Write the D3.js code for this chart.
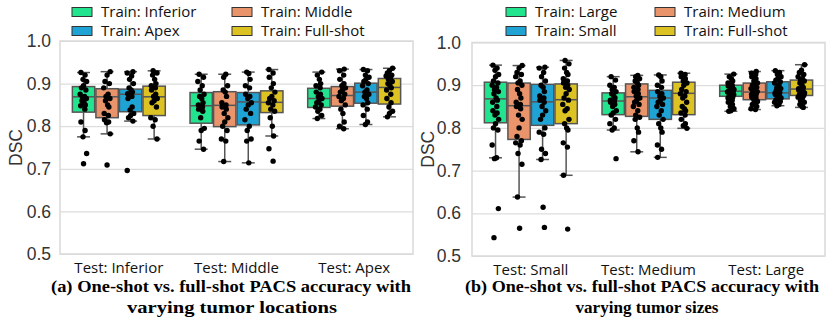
<!DOCTYPE html>
<html>
<head>
<meta charset="utf-8">
<script src="https://cdn.jsdelivr.net/npm/d3@7"></script>
<style>
  body { margin: 0; background: #fff; }
  svg { display: block; }
</style>
</head>
<body>
<script>
// ---- data ----
const colors = ["#22e38e", "#ea946c", "#1fa3d5", "#dcc222"];

const groupsA = ["Test: Inferior", "Test: Middle", "Test: Apex"];
const seriesA = ["Train: Inferior", "Train: Middle", "Train: Apex", "Train: Full-shot"];
const groupsB = ["Test: Small", "Test: Medium", "Test: Large"];
const seriesB = ["Train: Large", "Train: Medium", "Train: Small", "Train: Full-shot"];

const yTicks = [0.5, 0.6, 0.7, 0.8, 0.9, 1.0];

// box stats per group, per series: [whisker low, q1, median, q3, whisker high]
const boxA = [
  [[0.775, 0.833, 0.869, 0.893, 0.926], [0.782, 0.820, 0.869, 0.888, 0.928], [0.812, 0.834, 0.875, 0.887, 0.928], [0.770, 0.825, 0.869, 0.894, 0.930]],
  [[0.746, 0.807, 0.848, 0.879, 0.922], [0.717, 0.799, 0.849, 0.881, 0.922], [0.714, 0.803, 0.857, 0.879, 0.927], [0.777, 0.832, 0.856, 0.883, 0.933]],
  [[0.818, 0.844, 0.865, 0.889, 0.927], [0.794, 0.847, 0.872, 0.893, 0.934], [0.804, 0.854, 0.880, 0.901, 0.933], [0.822, 0.852, 0.891, 0.912, 0.936]]
];
const boxB = [
  [[0.730, 0.812, 0.868, 0.907, 0.947], [0.638, 0.773, 0.852, 0.905, 0.946], [0.726, 0.806, 0.861, 0.902, 0.942], [0.689, 0.810, 0.866, 0.903, 0.958]],
  [[0.795, 0.831, 0.863, 0.882, 0.920], [0.744, 0.827, 0.873, 0.903, 0.923], [0.731, 0.820, 0.870, 0.888, 0.924], [0.799, 0.831, 0.881, 0.907, 0.928]],
  [[0.839, 0.874, 0.886, 0.900, 0.926], [0.843, 0.866, 0.884, 0.905, 0.932], [0.852, 0.868, 0.882, 0.908, 0.934], [0.848, 0.876, 0.891, 0.912, 0.948]]
];

// individual cases (strip points)
const pointsA = [
  [
    [0.926, 0.92, 0.91, 0.905, 0.895, 0.89, 0.885, 0.875, 0.87, 0.868, 0.865, 0.86, 0.855, 0.85, 0.848, 0.84, 0.81, 0.79, 0.775, 0.736, 0.712],
    [0.928, 0.92, 0.905, 0.9, 0.89, 0.875, 0.87, 0.865, 0.86, 0.85, 0.845, 0.83, 0.825, 0.815, 0.81, 0.808, 0.782, 0.709],
    [0.928, 0.925, 0.918, 0.91, 0.9, 0.89, 0.885, 0.88, 0.876, 0.87, 0.865, 0.845, 0.838, 0.83, 0.825, 0.82, 0.812, 0.696],
    [0.93, 0.925, 0.92, 0.91, 0.9, 0.895, 0.89, 0.885, 0.875, 0.87, 0.865, 0.86, 0.855, 0.845, 0.82, 0.815, 0.80, 0.77]
  ],
  [
    [0.922, 0.915, 0.905, 0.895, 0.885, 0.875, 0.87, 0.865, 0.855, 0.85, 0.845, 0.84, 0.835, 0.82, 0.795, 0.79, 0.765, 0.746],
    [0.922, 0.915, 0.895, 0.885, 0.88, 0.87, 0.855, 0.85, 0.845, 0.84, 0.83, 0.82, 0.81, 0.8, 0.79, 0.77, 0.765, 0.717],
    [0.927, 0.924, 0.91, 0.895, 0.89, 0.875, 0.87, 0.865, 0.855, 0.85, 0.84, 0.83, 0.815, 0.8, 0.79, 0.77, 0.765, 0.714],
    [0.933, 0.925, 0.915, 0.9, 0.89, 0.88, 0.87, 0.865, 0.86, 0.855, 0.85, 0.84, 0.835, 0.82, 0.8, 0.777, 0.747, 0.718]
  ],
  [
    [0.927, 0.92, 0.91, 0.9, 0.895, 0.89, 0.88, 0.875, 0.87, 0.865, 0.86, 0.855, 0.85, 0.845, 0.84, 0.835, 0.825, 0.818],
    [0.934, 0.93, 0.92, 0.91, 0.9, 0.895, 0.89, 0.885, 0.88, 0.875, 0.87, 0.865, 0.86, 0.85, 0.84, 0.83, 0.81, 0.8, 0.794],
    [0.933, 0.93, 0.92, 0.915, 0.91, 0.905, 0.9, 0.895, 0.885, 0.88, 0.875, 0.87, 0.865, 0.855, 0.85, 0.84, 0.825, 0.81, 0.804],
    [0.936, 0.93, 0.925, 0.92, 0.918, 0.915, 0.91, 0.905, 0.9, 0.895, 0.89, 0.885, 0.875, 0.865, 0.855, 0.845, 0.835, 0.83, 0.822]
  ]
];
const pointsB = [
  [
    [0.947, 0.94, 0.935, 0.925, 0.92, 0.91, 0.905, 0.9, 0.895, 0.89, 0.885, 0.88, 0.87, 0.865, 0.86, 0.85, 0.84, 0.835, 0.83, 0.82, 0.81, 0.8, 0.795, 0.76, 0.73, 0.728, 0.611, 0.543],
    [0.946, 0.94, 0.93, 0.925, 0.92, 0.91, 0.905, 0.9, 0.89, 0.88, 0.87, 0.86, 0.855, 0.85, 0.845, 0.83, 0.82, 0.8, 0.78, 0.77, 0.765, 0.76, 0.74, 0.715, 0.638, 0.565],
    [0.942, 0.94, 0.93, 0.92, 0.91, 0.9, 0.895, 0.885, 0.875, 0.87, 0.865, 0.86, 0.85, 0.84, 0.83, 0.82, 0.8, 0.79, 0.785, 0.75, 0.74, 0.726, 0.614, 0.567],
    [0.958, 0.95, 0.94, 0.93, 0.925, 0.915, 0.91, 0.905, 0.9, 0.895, 0.89, 0.88, 0.87, 0.865, 0.855, 0.845, 0.84, 0.82, 0.81, 0.8, 0.795, 0.765, 0.755, 0.689, 0.563]
  ],
  [
    [0.92, 0.912, 0.9, 0.895, 0.89, 0.885, 0.88, 0.875, 0.87, 0.865, 0.862, 0.86, 0.855, 0.85, 0.84, 0.835, 0.83, 0.82, 0.81, 0.8, 0.795, 0.728],
    [0.923, 0.92, 0.915, 0.91, 0.905, 0.9, 0.895, 0.89, 0.885, 0.88, 0.875, 0.87, 0.865, 0.86, 0.855, 0.85, 0.84, 0.83, 0.825, 0.82, 0.8, 0.79, 0.77, 0.744],
    [0.924, 0.92, 0.91, 0.9, 0.895, 0.885, 0.88, 0.875, 0.87, 0.865, 0.86, 0.855, 0.85, 0.84, 0.83, 0.82, 0.81, 0.8, 0.79, 0.76, 0.75, 0.731],
    [0.928, 0.925, 0.92, 0.915, 0.91, 0.905, 0.9, 0.89, 0.885, 0.88, 0.875, 0.87, 0.86, 0.85, 0.845, 0.84, 0.835, 0.83, 0.82, 0.81, 0.805, 0.799]
  ],
  [
    [0.926, 0.92, 0.915, 0.91, 0.905, 0.9, 0.898, 0.895, 0.892, 0.89, 0.888, 0.886, 0.885, 0.884, 0.882, 0.88, 0.878, 0.876, 0.875, 0.872, 0.87, 0.865, 0.86, 0.855, 0.85, 0.845, 0.84, 0.839],
    [0.932, 0.928, 0.925, 0.92, 0.915, 0.91, 0.905, 0.902, 0.9, 0.895, 0.892, 0.89, 0.888, 0.885, 0.884, 0.882, 0.88, 0.878, 0.875, 0.872, 0.87, 0.866, 0.862, 0.86, 0.855, 0.85, 0.845, 0.843],
    [0.934, 0.93, 0.925, 0.92, 0.915, 0.912, 0.908, 0.905, 0.9, 0.895, 0.892, 0.888, 0.885, 0.883, 0.882, 0.88, 0.878, 0.875, 0.872, 0.87, 0.868, 0.865, 0.862, 0.86, 0.855, 0.852],
    [0.948, 0.935, 0.93, 0.925, 0.92, 0.915, 0.912, 0.91, 0.905, 0.9, 0.895, 0.892, 0.89, 0.888, 0.886, 0.884, 0.882, 0.88, 0.878, 0.876, 0.872, 0.87, 0.865, 0.86, 0.855, 0.85, 0.848]
  ]
];

const captionA = ["(a) One-shot vs. full-shot PACS accuracy with", "varying tumor locations"];
const captionB = ["(b) One-shot vs. full-shot PACS accuracy with", "varying tumor sizes"];

// fixed spread pattern for the strip points
const jitter = [-0.5, 0.3, -0.1, 0.6, 0.0, -0.4, 0.45, -0.65, 0.2, -0.2, 0.55, -0.3, 0.1, 0.35, -0.55, 0.25];

// ---- drawing ----
const svg = d3.select("body").append("svg").attr("width", 830).attr("height", 325);

function panel(opt) {
  const { left, right, top, bottom, groups, series, box, points, caption, capX, capW, legendX, tickX } = opt;

  const y = d3.scaleLinear().domain([0.5, 1.0]).range([bottom, top]);
  const x0 = d3.scaleBand().domain(groups).range([left, right]).paddingInner(0.2).paddingOuter(0.1);
  const x1 = d3.scaleBand().domain(series).range([0, x0.bandwidth()]);

  const g = svg.append("g");

  // grid
  g.append("g")
    .attr("transform", "translate(" + left + ",0)")
    .call(d3.axisLeft(y).tickValues(yTicks).tickSize(-(right - left)).tickFormat(""))
    .call(s => s.select(".domain").remove())
    .call(s => s.selectAll("line").attr("stroke", "#dddddd").attr("stroke-width", 1.2));

  // frame
  g.append("rect")
    .attr("x", left).attr("y", top)
    .attr("width", right - left).attr("height", bottom - top)
    .attr("fill", "none").attr("stroke", "#d9d9d9").attr("stroke-width", 1.5);

  // y labels
  g.append("g")
    .attr("transform", "translate(" + tickX + ",0)")
    .call(d3.axisLeft(y).tickValues(yTicks).tickSize(0).tickFormat(d3.format(".1f")))
    .call(s => s.select(".domain").remove())
    .call(s => s.selectAll("text")
      .attr("font-family", "Liberation Sans, Arial, sans-serif")
      .attr("font-size", 17.5).attr("fill", "#333"));

  g.append("text")
    .attr("transform", "translate(" + (left - 38) + "," + ((top + bottom) / 2) + ") rotate(-90)")
    .attr("text-anchor", "middle")
    .attr("font-family", "Liberation Sans, Arial, sans-serif")
    .attr("font-size", 17.5).attr("fill", "#333")
    .text("DSC");

  // x labels
  g.append("g")
    .attr("transform", "translate(0," + bottom + ")")
    .call(d3.axisBottom(x0).tickSize(0).tickPadding(8))
    .call(s => s.select(".domain").remove())
    .call(s => s.selectAll("text")
      .attr("font-family", "Open Sans, sans-serif")
      .attr("font-size", 15).attr("fill", "#111"));

  const bw = x1.bandwidth();
  const cap = bw * 0.55;

  groups.forEach((grp, gi) => {
    series.forEach((ser, si) => {
      const [lo, q1, med, q3, hi] = box[gi][si];
      const cx = x0(grp) + x1(ser) + bw / 2;
      const bg = g.append("g");
      bg.append("line").attr("x1", cx).attr("x2", cx).attr("y1", y(hi)).attr("y2", y(q3))
        .attr("stroke", "#555").attr("stroke-width", 1.5);
      bg.append("line").attr("x1", cx).attr("x2", cx).attr("y1", y(q1)).attr("y2", y(lo))
        .attr("stroke", "#555").attr("stroke-width", 1.5);
      [lo, hi].forEach(v => bg.append("line")
        .attr("x1", cx - cap / 2).attr("x2", cx + cap / 2).attr("y1", y(v)).attr("y2", y(v))
        .attr("stroke", "#555").attr("stroke-width", 1.5));
      bg.append("rect")
        .attr("x", x0(grp) + x1(ser) + 0.6).attr("y", y(q3))
        .attr("width", bw - 1.2).attr("height", y(q1) - y(q3))
        .attr("fill", colors[si]).attr("stroke", "#555").attr("stroke-width", 1.5);
      bg.append("line").attr("x1", x0(grp) + x1(ser) + 0.6).attr("x2", x0(grp) + x1(ser) + bw - 0.6)
        .attr("y1", y(med)).attr("y2", y(med))
        .attr("stroke", "#555").attr("stroke-width", 1.5);

      bg.selectAll("circle")
        .data(points[gi][si])
        .join("circle")
        .attr("cx", (d, i) => cx + jitter[(i + si * 3 + gi * 5) % jitter.length] * bw * 0.22)
        .attr("cy", d => y(d))
        .attr("r", 2.7)
        .attr("fill", "#000");
    });
  });

  // legend (2 x 2)
  const leg = svg.append("g");
  series.forEach((ser, si) => {
    const col = si === 0 || si === 2 ? 0 : 1;
    const row = si < 2 ? 0 : 1;
    const lx = legendX[col];
    const ly = 12 + row * 19;
    leg.append("rect").attr("x", lx).attr("y", ly - 4.5).attr("width", 20).attr("height", 9)
      .attr("fill", colors[si]).attr("stroke", "#333").attr("stroke-width", 1);
    leg.append("text").attr("x", lx + 29).attr("y", ly).attr("dy", "0.35em")
      .attr("font-family", "Open Sans, sans-serif").attr("font-size", 15).attr("fill", "#111")
      .text(ser);
  });

  // caption
  caption.forEach((line, i) => {
    svg.append("text")
      .attr("x", capX[i]).attr("y", 292 + i * 21)
      .attr("text-anchor", "middle")
      .attr("font-family", "Liberation Serif, Times New Roman, serif")
      .attr("font-weight", "bold").attr("font-size", 17)
      .attr("textLength", capW[i]).attr("lengthAdjust", "spacingAndGlyphs")
      .attr("fill", "#000")
      .text(line);
  });
}

panel({ left: 60, right: 413, top: 41, bottom: 254, groups: groupsA, series: seriesA,
  box: boxA, points: pointsA, caption: captionA, capX: [231, 232], capW: [360, 210],
  legendX: [72, 232], tickX: 54 });
panel({ left: 472, right: 825, top: 42.5, bottom: 256, groups: groupsB, series: seriesB,
  box: boxB, points: pointsB, caption: captionB, capX: [642, 647], capW: [354, 143],
  legendX: [506, 655], tickX: 464 });
</script>
</body>
</html>
